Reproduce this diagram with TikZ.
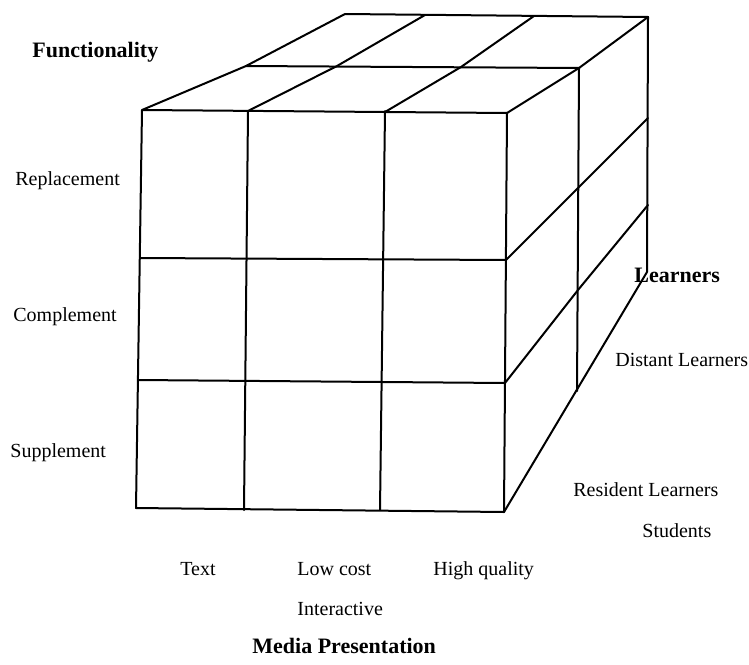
\documentclass[tikz,border=0pt]{standalone}
\usepackage{fontspec}
\setmainfont{Liberation Serif}

\tikzset{
  axislabel/.style={font=\fontsize{11}{13}\selectfont\bfseries, inner sep=0pt, anchor=base west},
  itemlabel/.style={font=\fontsize{10}{12}\selectfont, inner sep=0pt, anchor=base west},
  cubeline/.style={black, line width=1pt, line join=round, line cap=round}
}

\begin{document}
\begin{tikzpicture}[x=0.5pt, y=-0.5pt]
            \useasboundingbox (0,0) rectangle (749,664);
            % front face
            \draw [cubeline] (142,110) -- (507,113) -- (504,512) -- (136,508) -- cycle;
            \foreach \xt/\xb in {248/244, 385/380}
            \draw [cubeline] (\xt,111) -- (\xb,510);
            \draw [cubeline] (140,258) -- (506,260);
            \draw [cubeline] (138,380) -- (505,383);
            % top face
            \draw [cubeline] (142,110) -- (246,66) -- (345,14) -- (648,17);
            \draw [cubeline] (246,66) -- (579,68);
            \draw [cubeline] (248,111) -- (337,66) -- (425,15);
            \draw [cubeline] (385,112) -- (461,67) -- (534,16);
            \draw [cubeline] (507,113) -- (579,68) -- (648,17);
            % right face
            \draw [cubeline] (648,17) -- (647,272) -- (504,512);
            \draw [cubeline] (579,68) -- (577,391);
            \draw [cubeline] (506,260) -- (579,187) -- (648,118);
            \draw [cubeline] (505,383) -- (578,290) -- (648,205);
            % functionality
            \node [axislabel] (functionality) at (32,57) {Functionality};
            \node [itemlabel] (replacement) at (15,185) {Replacement};
            \node [itemlabel] (complement) at (13,321) {Complement};
            \node [itemlabel] (supplement) at (10,457) {Supplement};
            % learners
            \node [axislabel] (learners) at (634,282) {Learners};
            \node [itemlabel] (distant) at (615,366) {Distant Learners};
            \node [itemlabel] (resident) at (573,496) {Resident Learners};
            \node [itemlabel] (students) at (642,537) {Students};
            % media presentation
            \node [itemlabel] (text) at (180,575) {Text};
            \node [itemlabel] (lowcost) at (297,575) {Low cost};
            \node [itemlabel] (highquality) at (433,575) {High quality};
            \node [itemlabel] (interactive) at (297,615) {Interactive};
            \node [axislabel] (media) at (252,653) {Media Presentation};
        \end{tikzpicture}
\end{document}
